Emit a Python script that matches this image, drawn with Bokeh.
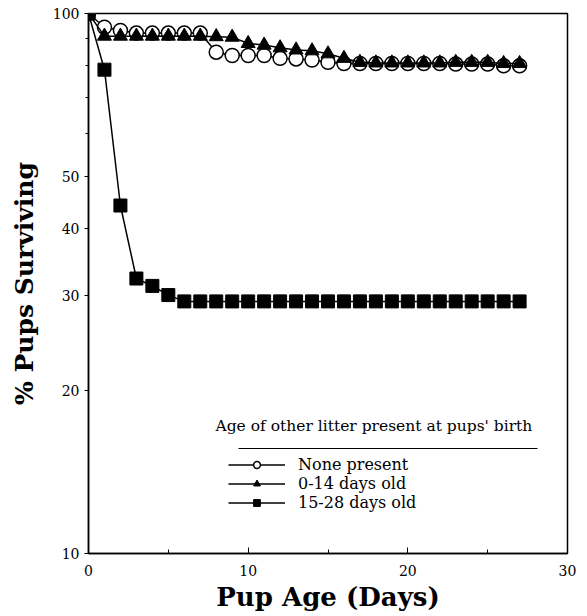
from bokeh.plotting import figure
from bokeh.models import (FixedTicker, Legend, LegendItem, Label, BoxAnnotation,
                          Range1d, NumeralTickFormatter)
from bokeh.embed import file_html
from bokeh.resources import INLINE

# ---- data ----
days = list(range(28))
none_present = [100, 94.3, 93.0, 92.0, 92.0, 92.0, 92.0, 92.0, 84.8, 83.6,
                83.6, 83.6, 82.6, 82.4, 82.0, 81.2, 80.8, 80.8, 80.8, 80.8,
                80.8, 80.8, 80.8, 80.6, 80.6, 80.6, 80.0, 80.0]
age_0_14 = [100, 90.8, 90.8, 90.8, 90.8, 90.8, 90.8, 90.8, 90.6, 90.4,
            88.0, 87.4, 86.4, 85.6, 85.3, 84.2, 82.6, 81.2, 81.0, 81.0,
            81.0, 81.0, 81.0, 81.2, 81.2, 81.2, 80.8, 80.8]
age_15_28 = [100, 78.7, 44.1, 32.3, 31.3, 30.1, 29.3, 29.3, 29.3, 29.3,
             29.3, 29.3, 29.3, 29.3, 29.3, 29.3, 29.3, 29.3, 29.3, 29.3,
             29.3, 29.3, 29.3, 29.3, 29.3, 29.3, 29.3, 29.3]
series_labels = ["None present", "0-14 days old", "15-28 days old"]
legend_title = "Age of other litter present at pups' birth"
y_ticks = [10, 20, 30, 40, 50, 100]
y_minor = [60, 70, 80, 90]
x_ticks = [0, 10, 20, 30]
x_minor = [5, 15, 25]

SERIF = "DejaVu Serif"

p = figure(width=580, height=615, y_axis_type="log",
           x_range=Range1d(0, 30), y_range=Range1d(10, 100),
           output_backend="svg", toolbar_location=None,
           min_border_left=88, min_border_right=13,
           min_border_top=13, min_border_bottom=62)

p.xgrid.visible = False
p.ygrid.visible = False
p.outline_line_color = "black"
p.outline_line_width = 1.5
p.background_fill_color = "white"
p.border_fill_color = "white"

# axes
p.xaxis.ticker = FixedTicker(ticks=x_ticks, minor_ticks=x_minor)
p.yaxis.ticker = FixedTicker(ticks=y_ticks, minor_ticks=y_minor)
p.yaxis.formatter = NumeralTickFormatter(format="0")
for ax in (p.xaxis, p.yaxis):
    ax.axis_line_color = "black"
    ax.axis_line_width = 1.5
    ax.major_tick_line_color = "black"
    ax.minor_tick_line_color = "black"
    ax.major_label_text_font = SERIF
    ax.major_label_text_font_size = "14px"
    ax.major_label_text_color = "black"
    ax.axis_label_text_font = SERIF
    ax.axis_label_text_font_style = "bold"
    ax.axis_label_text_color = "black"
p.xaxis.major_tick_in = 6
p.xaxis.major_tick_out = 0
p.xaxis.minor_tick_in = 4
p.xaxis.minor_tick_out = 0
p.xaxis.major_label_standoff = 11
p.yaxis.major_tick_in = 0
p.yaxis.major_tick_out = 4
p.yaxis.minor_tick_in = 0
p.yaxis.minor_tick_out = 3
p.yaxis.major_label_standoff = 5
p.xaxis.axis_label = "Pup Age (Days)"
p.yaxis.axis_label = "% Pups Surviving"
p.xaxis.axis_label_text_font_size = "26px"
p.yaxis.axis_label_text_font_size = "25px"
p.xaxis.axis_label_standoff = 3
p.yaxis.axis_label_standoff = 11

# series
l1 = p.line(days, none_present, line_color="black", line_width=1.5)
m1 = p.scatter(days, none_present, marker="circle", size=14,
               fill_color="white", line_color="black", line_width=1.5)
l2 = p.line(days, age_0_14, line_color="black", line_width=1.5)
m2 = p.scatter(days, age_0_14, marker="triangle", size=14,
               fill_color="black", line_color="black")
l3 = p.line(days, age_15_28, line_color="black", line_width=1.5)
m3 = p.scatter(days, age_15_28, marker="square", size=13,
               fill_color="black", line_color="black")

legend = Legend(items=[LegendItem(label=series_labels[0], renderers=[l1, m1]),
                       LegendItem(label=series_labels[1], renderers=[l2, m2]),
                       LegendItem(label=series_labels[2], renderers=[l3, m3])],
                location=(140, 41), glyph_width=57, glyph_height=17,
                label_height=17, spacing=0, padding=0, margin=0,
                label_standoff=13, border_line_alpha=0,
                background_fill_alpha=0, label_text_font=SERIF,
                label_text_font_size="16px", label_text_line_height=1.0,
                label_text_color="black")
p.add_layout(legend)

title = Label(x=127, y=128, x_units="screen", y_units="screen",
              text=legend_title, text_font=SERIF, text_font_size="15.5px",
              text_color="black", text_baseline="alphabetic")
p.add_layout(title)

rule = BoxAnnotation(left=150, right=449, bottom=104.5, top=105.5,
                     left_units="screen", right_units="screen",
                     bottom_units="screen", top_units="screen",
                     fill_color="black", fill_alpha=1, line_alpha=0)
p.add_layout(rule)

open("out.html", "w").write(file_html(p, INLINE))
